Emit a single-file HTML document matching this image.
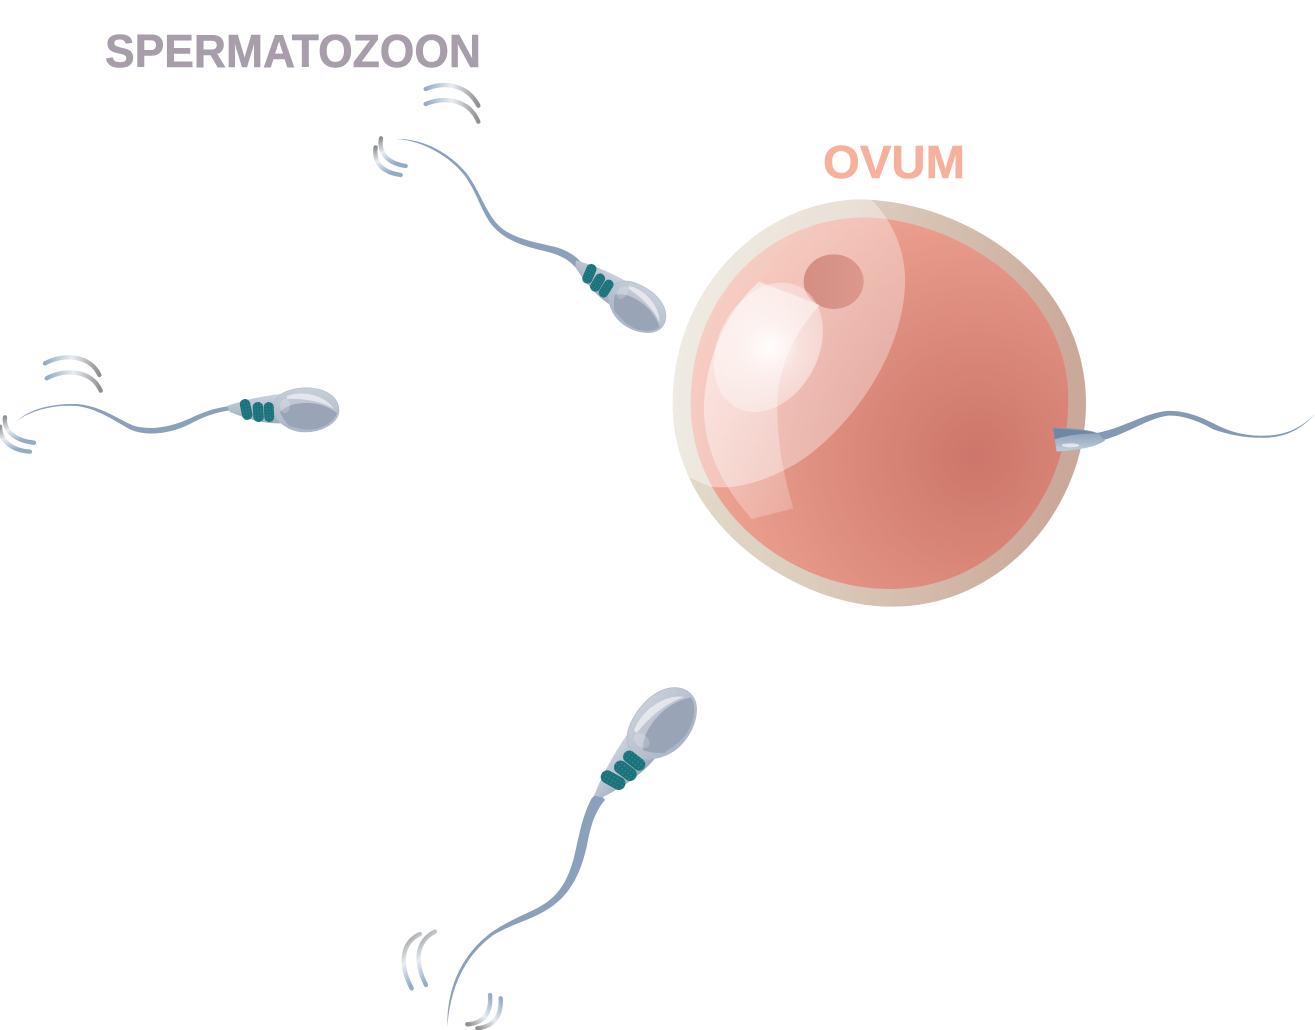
<!DOCTYPE html>
<html><head><meta charset="utf-8"><title>Spermatozoon and ovum</title>
<style>html,body{margin:0;padding:0;background:#fff;width:1315px;height:1030px;overflow:hidden}svg{display:block}
text{font-family:"Liberation Sans",sans-serif;font-weight:bold}</style></head>
<body>
<svg width="1315" height="1030" viewBox="0 0 1315 1030" xmlns="http://www.w3.org/2000/svg">
<defs>
<linearGradient id="outer" x1="0" y1="0" x2="1" y2="0.15"><stop offset="0" stop-color="#e4dfcf"/><stop offset="0.45" stop-color="#dccdbd"/><stop offset="1" stop-color="#cba99a"/></linearGradient>
<radialGradient id="inner" gradientUnits="userSpaceOnUse" cx="950" cy="800" r="900"><stop offset="0" stop-color="#cd756a"/><stop offset="0.1" stop-color="#d07a6e"/><stop offset="0.45" stop-color="#dc8b7d"/><stop offset="0.8" stop-color="#ea9d8d"/><stop offset="1" stop-color="#f0a998"/></radialGradient>
<radialGradient id="glow" gradientUnits="userSpaceOnUse" cx="330" cy="470" r="220"><stop offset="0" stop-color="#fff" stop-opacity="0.95"/><stop offset="0.4" stop-color="#fff" stop-opacity="0.55"/><stop offset="1" stop-color="#fff" stop-opacity="0.3"/></radialGradient>
<linearGradient id="cres" x1="0.2" y1="0.2" x2="0.6" y2="1"><stop offset="0" stop-color="#fff" stop-opacity="0.5"/><stop offset="1" stop-color="#fff" stop-opacity="0.22"/></linearGradient>
<linearGradient id="big" x1="0" y1="0.3" x2="1" y2="0.6"><stop offset="0" stop-color="#fff" stop-opacity="0.45"/><stop offset="1" stop-color="#fff" stop-opacity="0.32"/></linearGradient>
<linearGradient id="nuc" x1="0" y1="0" x2="1" y2="0"><stop offset="0" stop-color="#d48e84"/><stop offset="1" stop-color="#dc988d"/></linearGradient>
<linearGradient id="gh" x1="0" y1="0" x2="1" y2="0"><stop offset="0" stop-color="#94abc6"/><stop offset="0.5" stop-color="#e8edf2"/><stop offset="1" stop-color="#8f8f92"/></linearGradient>
<linearGradient id="gv" x1="0" y1="0" x2="0.3" y2="1"><stop offset="0" stop-color="#8f8f92"/><stop offset="0.5" stop-color="#e8edf2"/><stop offset="1" stop-color="#94abc6"/></linearGradient>
<linearGradient id="gv2" x1="1" y1="0" x2="0" y2="1"><stop offset="0" stop-color="#94abc6"/><stop offset="0.5" stop-color="#e8edf2"/><stop offset="1" stop-color="#8f8f92"/></linearGradient>
<linearGradient id="head" x1="0" y1="0" x2="0" y2="1"><stop offset="0" stop-color="#c8cfda"/><stop offset="0.6" stop-color="#b6bfce"/><stop offset="1" stop-color="#a9b6c9"/></linearGradient>
<linearGradient id="mid" x1="0" y1="0" x2="0" y2="1"><stop offset="0" stop-color="#ccd3de"/><stop offset="1" stop-color="#9fabbd"/></linearGradient>
<linearGradient id="ohead" x1="0" y1="0" x2="0" y2="1"><stop offset="0" stop-color="#8098b3"/><stop offset="0.6" stop-color="#a6b7ca"/><stop offset="1" stop-color="#c3cfdb"/></linearGradient>
<pattern id="mito" width="3" height="3" patternUnits="userSpaceOnUse"><rect width="3" height="3" fill="#1c727b"/><circle cx="1" cy="1" r="0.6" fill="#2f9097"/></pattern>
<clipPath id="ovclip"><path d="M38 640 C38 300 300 28 610 28 C930 40 1278 270 1278 640 C1278 950 1030 1250 700 1250 C420 1255 38 1010 38 640Z"/></clipPath>
<g id="sp">
  <path d="M0 -2 C14 -7 34 -12 54 -14 L58 15 C40 17 20 11 3 4 Z" fill="url(#mid)"/>
  <path d="M50 -10 C56 -18 72 -21 85 -20 C103 -18 112 -8 112 2 C112 15 95 24 78 24 C62 24 52 14 47 8 C45 2 46 -5 50 -10Z" fill="url(#head)" stroke="#aeb9c8" stroke-width="0.6"/>
  <path d="M53 4 C60 -3 70 -5 80 -5 C92 -5 102 -1 110 5 C108 13 98 19 88 21 C78 23 68 19 62 18 C58 13 55 9 53 4Z" fill="#99a5b6"/>
  <path d="M60 -12 C76 -18 98 -13 107 1 C96 -6 78 -10 60 -9Z" fill="#fff" opacity="0.55"/>
  <ellipse cx="58" cy="-2" rx="5" ry="7" fill="#fff" opacity="0.2"/>
  <g fill="url(#mito)">
    <rect x="14" y="-9" width="10.5" height="21" rx="5" transform="rotate(-12 19 2)"/>
    <rect x="26" y="-6" width="10.5" height="20" rx="5" transform="rotate(-4 31 4)"/>
    <rect x="37" y="-6" width="10" height="20" rx="5" transform="rotate(-3 42 4)"/>
  </g>
</g>
</defs>

<rect width="1315" height="1030" fill="#fff"/>

<text x="105" y="67" font-size="46" fill="#a79dab" stroke="#a79dab" stroke-width="0.6" textLength="376" lengthAdjust="spacingAndGlyphs">SPERMATOZOON</text>
<text x="823" y="178" font-size="46" fill="#f5b19c" stroke="#f5b19c" stroke-width="0.6" textLength="142" lengthAdjust="spacingAndGlyphs">OVUM</text>

<!-- Ovum -->
<g transform="translate(660 190) scale(.33333)">
  <path d="M38 640 C38 300 300 28 610 28 C930 40 1278 270 1278 640 C1278 950 1030 1250 700 1250 C420 1255 38 1010 38 640Z" fill="url(#outer)"/>
  <path d="M92 640 C92 320 320 82 620 82 C880 90 1225 290 1225 630 C1225 930 1000 1197 690 1197 C420 1200 92 985 92 640Z" fill="url(#inner)"/>
  <g clip-path="url(#ovclip)">
    <path d="M625 20 C700 90 740 190 735 290 C725 480 600 680 440 800 C340 870 230 900 150 890 L70 855 L0 700 L0 0 Z" fill="url(#big)"/>
  </g>
  <ellipse cx="521" cy="275" rx="90" ry="82" fill="url(#nuc)"/>
  <path d="M297 275 L480 345 C410 420 355 520 352 640 C350 760 375 870 400 955 L275 987 C190 890 130 780 132 650 C135 500 210 350 297 275Z" fill="url(#cres)"/>
  <ellipse cx="325" cy="472" rx="150" ry="205" transform="rotate(28 325 472)" fill="url(#glow)"/>
</g>

<!-- Ovum sperm -->
<g transform="translate(1040 400) scale(.33333)">
  <path d="M165 100 C250 85 310 40 380 33 C440 30 490 55 530 75 C590 105 640 108 680 107 C740 105 790 80 825 40 C790 85 740 110 680 113 C620 115 570 105 520 88 C480 65 430 45 385 47 C320 55 260 105 170 125Z" fill="#839ab6"/>
  <path d="M38 82 C80 85 140 85 175 100 L195 122 C160 145 110 150 50 155 Z" fill="url(#ohead)"/>
  <path d="M40 85 C90 88 135 90 175 100 C130 100 85 104 44 118Z" fill="#6f87a3"/>
  <ellipse cx="92" cy="136" rx="26" ry="6" fill="#fff" opacity="0.6"/>
</g>

<!-- Top sperm -->
<g transform="translate(360 70) scale(.33333)">
  <path d="M110 207 C190 205 270 250 320 310 C360 365 375 420 410 460 C450 505 520 515 590 532 C625 542 650 560 668 582 L650 597 C630 570 600 555 560 545 C500 530 440 515 400 470 C365 430 355 375 315 318 C270 260 190 212 110 207Z" fill="#8aa0bb"/>
  <g fill="none" stroke-width="13" stroke-linecap="round">
    <path d="M197 57 C250 35 320 40 355 107" stroke="url(#gh)"/>
    <path d="M197 102 C250 80 325 85 355 155" stroke="url(#gh)"/>
    <path d="M63 205 C55 250 85 280 137 288" stroke="url(#gv)"/>
    <path d="M47 232 C40 280 70 308 122 315" stroke="url(#gv)"/>
  </g>
</g>
<use href="#sp" transform="translate(575 262) rotate(35) scale(.97)"/>

<!-- Left sperm -->
<g transform="translate(0 340) scale(.33333)">
  <path d="M48 245 C90 205 160 190 230 192 C300 197 350 235 400 257 C450 272 510 262 570 235 C610 215 650 203 690 198 L700 210 C650 215 610 230 570 252 C510 282 440 290 390 268 C340 240 290 205 230 198 C160 193 90 212 48 245Z" fill="#8aa0bb"/>
  <g fill="none" stroke-width="13" stroke-linecap="round">
    <path d="M135 70 C190 40 270 45 298 105" stroke="url(#gh)"/>
    <path d="M140 115 C195 85 275 90 302 152" stroke="url(#gh)"/>
    <path d="M15 232 C10 275 50 303 102 308" stroke="url(#gv)"/>
    <path d="M0 260 C0 305 40 332 90 335" stroke="url(#gv)"/>
  </g>
</g>
<use href="#sp" transform="translate(227 408)"/>

<!-- Bottom sperm -->
<g transform="translate(390 670) scale(.33333)">
  <path d="M172 1070 C170 960 210 860 300 790 C350 755 400 735 440 715 C500 685 530 640 550 570 C565 510 575 440 605 385 L625 365 L645 390 C610 430 600 480 590 530 C570 620 535 680 470 720 C420 750 360 765 310 795 C220 860 180 960 172 1070Z" fill="#8aa0bb"/>
  <g fill="none" stroke-width="13" stroke-linecap="round">
    <path d="M90 792 C30 820 30 890 65 955" stroke="url(#gv)"/>
    <path d="M135 785 C75 815 75 880 108 945" stroke="url(#gv)"/>
    <path d="M300 975 C305 1030 280 1060 232 1063" stroke="url(#gv2)"/>
    <path d="M332 985 C335 1040 310 1070 262 1075" stroke="url(#gv2)"/>
  </g>
</g>
<use href="#sp" transform="translate(596 797) rotate(-49) scale(1.25)"/>
</svg>
</body></html>
